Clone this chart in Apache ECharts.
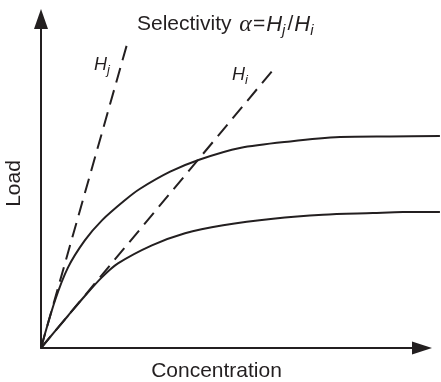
<!DOCTYPE html>
<html>
<head>
<meta charset="utf-8">
<script src="https://cdn.jsdelivr.net/npm/echarts@6/dist/echarts.min.js"></script>
<style>
  html, body { margin: 0; padding: 0; background: #ffffff; }
  #chart { width: 441px; height: 382px; }
</style>
</head>
<body>
<div id="chart"></div>
<script>
// Adsorption isotherms: load vs. concentration for two components,
// with the Henry's-law initial slopes drawn as dashed lines.
const concStrong = [0, 3.7, 7.1, 11.5, 16.0, 22.0, 26.0, 33.9, 41.7, 52.2, 65.4, 78.5, 91.6, 104.7];
const loadStrong = [0, 14.5, 24.5, 32.7, 38.8, 44.9, 48.4, 53.6, 57.3, 60.8, 62.8, 64.1, 64.3, 64.4];

const concWeak = [0, 7.1, 11.5, 15.9, 20.2, 29.1, 37.8, 47.8, 60.9, 74.0, 87.1, 95.0, 104.7];
const loadWeak = [0, 9.8, 15.8, 21.4, 25.7, 31.2, 34.9, 37.3, 39.3, 40.5, 41.0, 41.3, 41.3];

// Henry's-law lines (slopes H_j and H_i)
const concHj = [0, 22.5];
const loadHj = [0, 92.0];
const concHi = [0, 60.6];
const loadHi = [0, 84.1];

// The axes span 0..100 on both directions; the curves run a little past the
// x-axis arrow, so they sit on a wider grid that uses the same scale.
const xAxisMax = 100;
const xPlotMax = 104.72;

const ink = '#231f20';
const zip = (xs, ys) => xs.map((x, i) => [x, ys[i]]);

const solid = { color: ink, width: 2 };
const dashed = { color: ink, width: 2, type: [15, 8] };

const sans = 'Liberation Sans';
const richH = (size, subSize, drop) => ({
  h: { fontFamily: sans, fontStyle: 'italic', fontWeight: 'normal', fontSize: size, color: ink },
  s: { fontFamily: sans, fontStyle: 'italic', fontWeight: 'normal', fontSize: subSize, color: ink, padding: [drop, 1, 0, 0] }
});

const hidden = { show: false };
const plainAxis = {
  axisTick: hidden, axisLabel: hidden, splitLine: hidden
};

const chart = echarts.init(document.getElementById('chart'), null, { renderer: 'canvas' });
chart.setOption({
  animation: false,
  backgroundColor: '#ffffff',
  grid: [
    { left: 41, right: 19, top: 19, bottom: 34, outerBoundsMode: 'none' },
    { left: 41, right: 1, top: 19, bottom: 34, outerBoundsMode: 'none' }
  ],
  title: [
    {
      left: 137, top: 11, padding: 0,
      text: '{n|Selectivity }{g|α}{q|=}{h|H}{s|j}{q|/}{h|H}{s|i}',
      textStyle: {
        rich: Object.assign({
          n: { fontFamily: sans, fontWeight: 'normal', fontSize: 21, color: ink },
          q: { fontFamily: sans, fontWeight: 'normal', fontSize: 21, color: ink, padding: [0, 1, 0, 1] },
          g: { fontFamily: 'Liberation Serif', fontStyle: 'italic', fontWeight: 'normal', fontSize: 24, color: ink, padding: [0, 0, 0, 2] }
        }, richH(22, 15, 12))
      }
    },
    {
      left: 94, top: 53, padding: 0,
      text: '{h|H}{s|j}',
      textStyle: { rich: richH(18, 13, 11) }
    },
    {
      left: 232, top: 63, padding: 0,
      text: '{h|H}{s|i}',
      textStyle: { rich: richH(18, 13, 11) }
    }
  ],
  xAxis: [
    Object.assign({
      type: 'value', gridIndex: 0, min: 0, max: xAxisMax,
      name: 'Concentration', nameLocation: 'middle', nameGap: 13,
      nameTextStyle: { fontFamily: sans, fontSize: 21, color: ink, padding: [0, 30, 0, 0] },
      axisLine: { show: true, symbol: ['none', 'triangle'], symbolSize: [13, 20], lineStyle: { color: ink, width: 2 } }
    }, plainAxis),
    { type: 'value', gridIndex: 1, min: 0, max: xPlotMax, show: false }
  ],
  yAxis: [
    Object.assign({
      type: 'value', gridIndex: 0, min: 0, max: 100,
      name: 'Load', nameLocation: 'middle', nameGap: 16,
      nameTextStyle: { fontFamily: sans, fontSize: 21, color: ink },
      axisLine: { show: true, symbol: ['none', 'triangle'], symbolSize: [14, 20], lineStyle: { color: ink, width: 2 } }
    }, plainAxis),
    { type: 'value', gridIndex: 1, min: 0, max: 100, show: false }
  ],
  series: [
    { type: 'line', xAxisIndex: 1, yAxisIndex: 1, data: zip(concStrong, loadStrong), smooth: 0.3, showSymbol: false, clip: false, lineStyle: solid, silent: true },
    { type: 'line', xAxisIndex: 1, yAxisIndex: 1, data: zip(concWeak, loadWeak), smooth: 0.3, showSymbol: false, clip: false, lineStyle: solid, silent: true },
    { type: 'line', xAxisIndex: 1, yAxisIndex: 1, data: zip(concHj, loadHj), showSymbol: false, clip: false, lineStyle: dashed, silent: true },
    { type: 'line', xAxisIndex: 1, yAxisIndex: 1, data: zip(concHi, loadHi), showSymbol: false, clip: false, lineStyle: dashed, silent: true }
  ]
});
</script>
</body>
</html>
